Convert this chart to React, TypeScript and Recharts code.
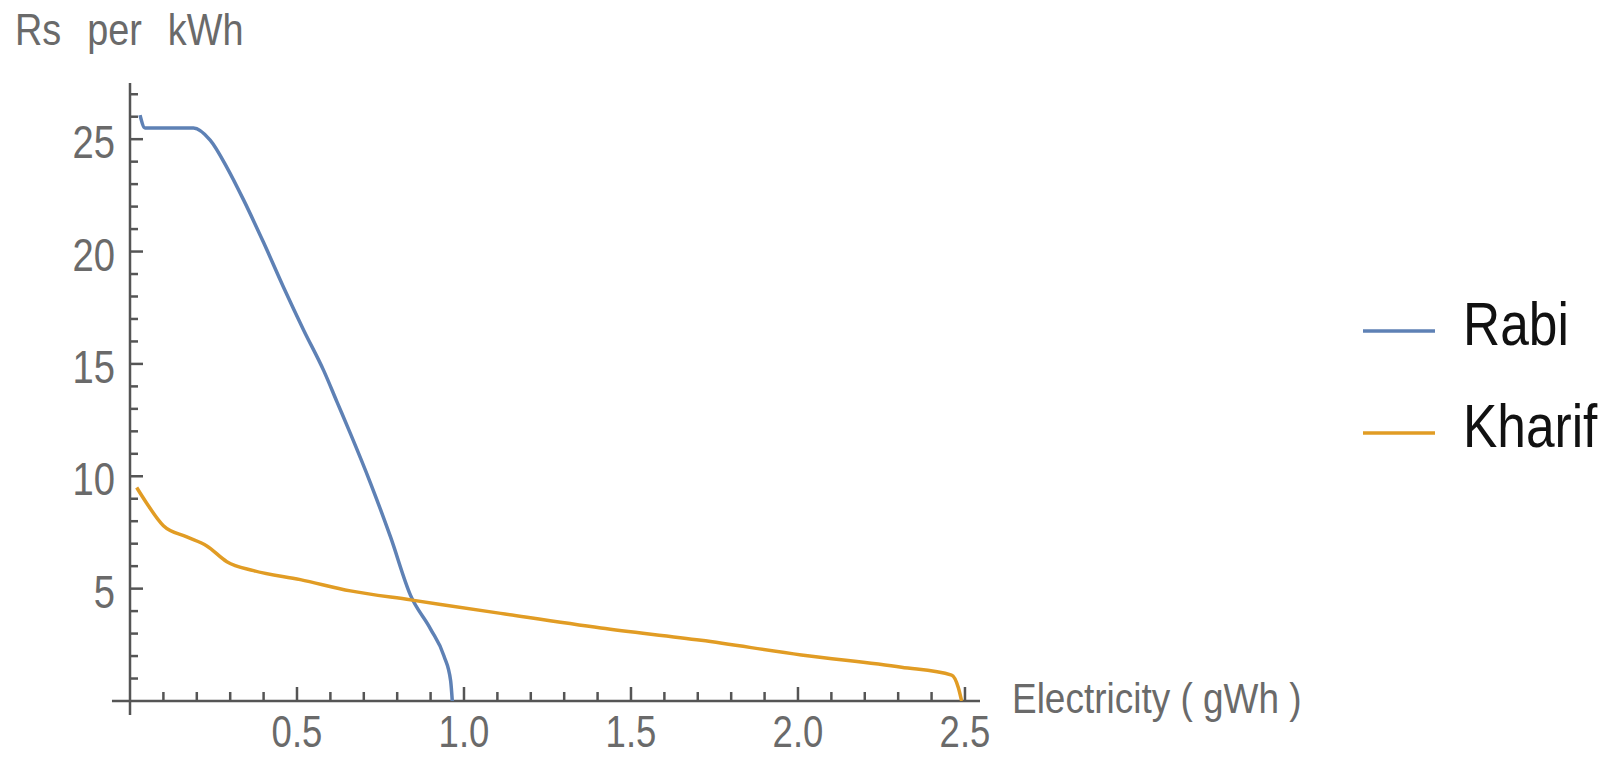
import { LineChart, Line, XAxis, YAxis, ReferenceLine, Legend } from 'recharts';

const rabiX = [0.03, 0.045, 0.19, 0.24, 0.29, 0.34, 0.40, 0.46, 0.52, 0.58, 0.62, 0.66, 0.72, 0.78, 0.84, 0.90, 0.94, 0.96, 0.965];
const rabiY = [26.07, 25.5, 25.5, 24.96, 23.75, 22.3, 20.4, 18.4, 16.5, 14.7, 13.3, 11.9, 9.7, 7.3, 4.7, 3.2, 2.0, 0.9, 0];

const kharifX = [0.02, 0.05, 0.10, 0.17, 0.23, 0.29, 0.37, 0.51, 0.66, 0.84, 1.11, 1.41, 1.71, 2.01, 2.31, 2.46, 2.48, 2.49];
const kharifY = [9.5, 8.8, 7.8, 7.3, 6.9, 6.2, 5.8, 5.4, 4.9, 4.5, 3.9, 3.25, 2.7, 2.05, 1.5, 1.15, 0.6, 0];

const xTicks = [0.1, 0.2, 0.3, 0.4, 0.5, 0.6, 0.7, 0.8, 0.9, 1, 1.1, 1.2, 1.3, 1.4, 1.5, 1.6, 1.7, 1.8, 1.9, 2, 2.1, 2.2, 2.3, 2.4, 2.5];
const xLabels = [0.5, 1, 1.5, 2, 2.5];
const yTicks = [1, 2, 3, 4, 5, 6, 7, 8, 9, 10, 11, 12, 13, 14, 15, 16, 17, 18, 19, 20, 21, 22, 23, 24, 25, 26, 27];
const yLabels = [5, 10, 15, 20, 25];

const seriesNames = ['Rabi', 'Kharif'];
const seriesColors = ['#5E81B5', '#E19C24'];

const rabiData = rabiX.map((x, i) => ({ x, y: rabiY[i] }));
const kharifData = kharifX.map((x, i) => ({ x, y: kharifY[i] }));

const AXIS = '#555555';
const TEXT = '#6a6a6a';
const FONT = '"Liberation Sans", Arial, sans-serif';

const XTick = (props: any) => {
  const { x, y, payload } = props;
  const major = xLabels.includes(payload.value);
  return (
    <g>
      <line x1={x} x2={x} y1={y} y2={y - (major ? 14 : 9)} stroke={AXIS} strokeWidth={2.5} />
      {major && (
        <text transform={`translate(${x},${y + 46}) scale(0.83,1)`} textAnchor="middle" fontSize={44} fill={TEXT} fontFamily={FONT}>
          {payload.value.toFixed(1)}
        </text>
      )}
    </g>
  );
};

const YTick = (props: any) => {
  const { x, y, payload } = props;
  const major = yLabels.includes(payload.value);
  return (
    <g>
      <line x1={x} x2={x + (major ? 13 : 8)} y1={y} y2={y} stroke={AXIS} strokeWidth={2.5} />
      {major && (
        <text transform={`translate(${x - 15},${y + 19}) scale(0.83,1)`} textAnchor="end" fontSize={46} fill={TEXT} fontFamily={FONT}>
          {payload.value}
        </text>
      )}
    </g>
  );
};

const XTitle = (props: any) => {
  const { viewBox } = props;
  return (
    <text transform={`translate(${viewBox.x + viewBox.width + 32},${viewBox.y + 12}) scale(0.86,1)`} fontSize={43} fill={TEXT} fontFamily={FONT}>
      Electricity ( gWh )
    </text>
  );
};

const YTitle = (props: any) => {
  const { viewBox } = props;
  return (
    <text transform={`translate(15,${viewBox.y - 38}) scale(0.86,1)`} fontSize={44} fill={TEXT} fontFamily={FONT} wordSpacing={18}>
      Rs per kWh
    </text>
  );
};

const LegendBox = () => (
  <svg width={247} height={260}>
    {seriesNames.map((name, i) => (
      <g key={name}>
        <line x1={0} x2={72} y1={81 + i * 102} y2={81 + i * 102} stroke={seriesColors[i]} strokeWidth={3.5} />
        <text transform={`translate(100,${95 + i * 102}) scale(0.83,1)`} fontSize={62} fill="#111" fontFamily={FONT}>
          {name}
        </text>
      </g>
    ))}
  </svg>
);

export default function App() {
  return (
    <div style={{ position: 'absolute', left: 0, top: 0, width: 1610, height: 757, background: '#fff' }}>
      <LineChart width={1610} height={757} margin={{ top: 83, right: 630, bottom: 0, left: 0 }}>
        <XAxis
          type="number"
          dataKey="x"
          domain={[0, 2.545]}
          ticks={xTicks}
          tick={<XTick />}
          tickSize={0}
          tickMargin={0}
          axisLine={false}
          tickLine={false}
          height={56}
          interval={0}
          allowDataOverflow
          label={<XTitle />}
        />
        <YAxis
          type="number"
          domain={[0, 27.5]}
          ticks={yTicks}
          tick={<YTick />}
          tickSize={0}
          tickMargin={0}
          axisLine={false}
          tickLine={false}
          width={130}
          interval={0}
          allowDataOverflow
          label={<YTitle />}
        />
        <ReferenceLine segment={[{ x: -0.054, y: 0 }, { x: 2.545, y: 0 }]} stroke={AXIS} strokeWidth={2.5} ifOverflow="visible" />
        <ReferenceLine segment={[{ x: 0, y: -0.62 }, { x: 0, y: 27.5 }]} stroke={AXIS} strokeWidth={2.5} ifOverflow="visible" />
        <Line data={rabiData} dataKey="y" name={seriesNames[0]} type="monotone" stroke={seriesColors[0]} strokeWidth={3.5} dot={false} activeDot={false} isAnimationActive={false} />
        <Line data={kharifData} dataKey="y" name={seriesNames[1]} type="monotone" stroke={seriesColors[1]} strokeWidth={3.5} dot={false} activeDot={false} isAnimationActive={false} />
        <Legend
          layout="horizontal"
          align="center"
          verticalAlign="middle"
          content={<LegendBox />}
          wrapperStyle={{ left: 1363, top: 250, width: 247, height: 260 }}
        />
      </LineChart>
    </div>
  );
}
